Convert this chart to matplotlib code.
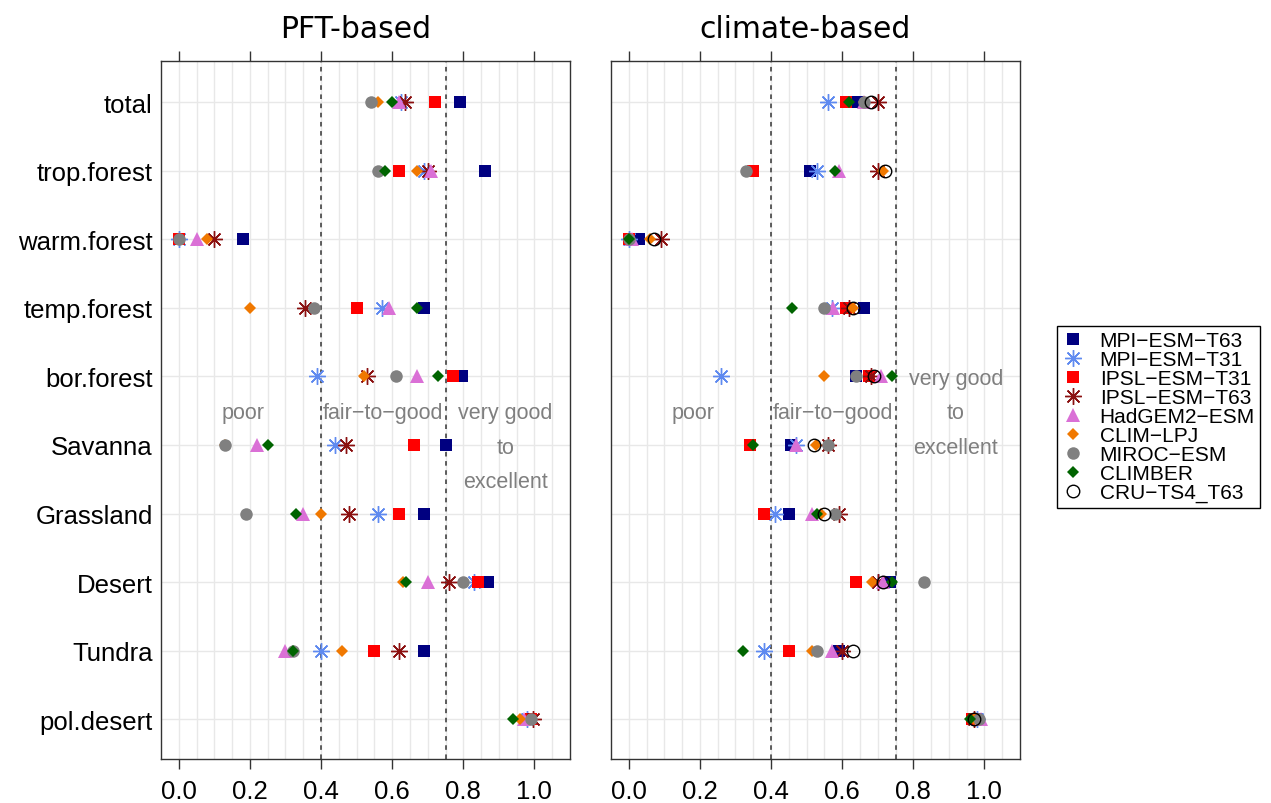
import numpy as np
import matplotlib
matplotlib.use("Agg")
import matplotlib.pyplot as plt
from matplotlib.lines import Line2D

categories = ["total", "trop.forest", "warm.forest", "temp.forest", "bor.forest",
              "Savanna", "Grassland", "Desert", "Tundra", "pol.desert"]
models = ["MPI\u2212ESM\u2212T63", "MPI\u2212ESM\u2212T31", "IPSL\u2212ESM\u2212T31",
          "IPSL\u2212ESM\u2212T63", "HadGEM2\u2212ESM", "CLIM\u2212LPJ", "MIROC\u2212ESM",
          "CLIMBER", "CRU\u2212TS4_T63"]
nan = np.nan

# PFT-based scores
pft_mpi_t63 = [0.79, 0.86, 0.18, 0.69, 0.795, 0.75, 0.69, 0.87, 0.69, 0.99]
pft_mpi_t31 = [0.625, 0.69, 0.0, 0.57, 0.39, 0.44, 0.56, 0.83, 0.40, 0.98]
pft_ipsl_t31 = [0.72, 0.62, 0.0, 0.50, 0.77, 0.66, 0.62, 0.84, 0.55, 0.99]
pft_ipsl_t63 = [0.635, 0.70, 0.10, 0.355, 0.53, 0.47, 0.48, 0.76, 0.62, 0.995]
pft_hadgem = [0.62, 0.71, 0.05, 0.59, 0.67, 0.22, 0.35, 0.70, 0.30, 0.97]
pft_climlpj = [0.56, 0.67, 0.08, 0.20, 0.52, 0.13, 0.40, 0.63, 0.46, 0.96]
pft_miroc = [0.54, 0.56, 0.0, 0.38, 0.61, 0.13, 0.19, 0.80, 0.32, 0.99]
pft_climber = [0.60, 0.58, nan, 0.67, 0.73, 0.25, 0.33, 0.64, 0.32, 0.94]
pft_cru = [nan] * 10

# climate-based scores
cli_mpi_t63 = [0.645, 0.51, 0.03, 0.66, 0.64, 0.455, 0.45, 0.735, 0.59, 0.98]
cli_mpi_t31 = [0.56, 0.53, 0.0, 0.57, 0.26, 0.47, 0.41, 0.70, 0.38, 0.98]
cli_ipsl_t31 = [0.61, 0.35, 0.0, 0.61, 0.675, 0.34, 0.38, 0.64, 0.45, 0.965]
cli_ipsl_t63 = [0.70, 0.70, 0.09, 0.62, 0.68, 0.56, 0.59, 0.70, 0.60, 0.97]
cli_hadgem = [0.66, 0.59, 0.01, 0.575, 0.71, 0.47, 0.515, 0.715, 0.57, 0.99]
cli_climlpj = [0.66, 0.715, 0.06, 0.63, 0.55, 0.525, 0.54, 0.685, 0.515, 0.97]
cli_miroc = [0.66, 0.33, 0.0, 0.55, 0.64, 0.56, 0.58, 0.83, 0.53, 0.985]
cli_climber = [0.62, 0.58, 0.0, 0.46, 0.74, 0.35, 0.53, 0.74, 0.32, 0.96]
cli_cru = [0.68, 0.72, 0.07, 0.63, 0.69, 0.52, 0.55, 0.715, 0.63, 0.97]

pft_data = [pft_mpi_t63, pft_mpi_t31, pft_ipsl_t31, pft_ipsl_t63, pft_hadgem,
            pft_climlpj, pft_miroc, pft_climber, pft_cru]
cli_data = [cli_mpi_t63, cli_mpi_t31, cli_ipsl_t31, cli_ipsl_t63, cli_hadgem,
            cli_climlpj, cli_miroc, cli_climber, cli_cru]

thresholds = [0.4, 0.75]
xticks = [0.0, 0.2, 0.4, 0.6, 0.8, 1.0]

styles = [
    dict(marker="s", color="#000080", ms=9, mfc="#000080", mew=0),
    dict(marker=(8, 2, 0), color="#5F8AF0", ms=12, mew=1.0),
    dict(marker="s", color="#FF0000", ms=9, mfc="#FF0000", mew=0),
    dict(marker=(8, 2, 0), color="#8B1010", ms=12, mew=1.0),
    dict(marker="^", color="#DA70D6", ms=10.5, mfc="#DA70D6", mew=0),
    dict(marker="D", color="#F07800", ms=6.5, mfc="#F07800", mew=0),
    dict(marker="o", color="#808080", ms=9, mfc="#808080", mew=0),
    dict(marker="D", color="#006400", ms=6.5, mfc="#006400", mew=0),
    dict(marker="o", color="black", ms=9, mfc="none", mew=1.0),
]

W, H = 1271, 804
fig = plt.figure(figsize=(W / 100, H / 100), dpi=100)

def px_axes(x0, y0, x1, y1):
    return fig.add_axes([x0 / W, 1 - y1 / H, (x1 - x0) / W, (y1 - y0) / H])

ax1 = px_axes(161, 62, 570, 760)
ax2 = px_axes(611, 62, 1020, 760)

ypos = np.arange(len(categories))[::-1] + 1
grey_txt = "#7F7F7F"
lab_font = "Liberation Sans"

def draw_panel(ax, data, show_ylabels):
    ax.set_xlim(-0.05, 1.1)
    ax.set_ylim(0.42, 10.6)
    for g in np.arange(0, 1.1, 0.05):
        ax.axvline(g, color="#E8E8E8", lw=1.0, zorder=0)
    for y in ypos:
        ax.axhline(y, color="#E8E8E8", lw=1.0, zorder=0)
    for t in thresholds:
        ax.axvline(t, color="#333333", lw=1.1, ls=(0, (3, 3)), zorder=1)
    for vals, st in zip(data, styles):
        ax.plot(vals, ypos, ls="none", zorder=3, **st)
    ax.set_xticks(xticks)
    ax.set_xticklabels(["%.1f" % v for v in xticks], fontfamily=lab_font, fontsize=18.5)
    ax.tick_params(axis="x", top=True, bottom=True, direction="out", length=7.5,
                   width=1.0, color="#333333", pad=7)
    ax.set_yticks(ypos)
    if show_ylabels:
        ax.set_yticklabels(categories, fontfamily=lab_font, fontsize=18.5)
    else:
        ax.set_yticklabels([])
    ax.tick_params(axis="y", length=0, pad=6)
    for s in ax.spines.values():
        s.set_color("#333333")
        s.set_linewidth(1.0)

draw_panel(ax1, pft_data, True)
draw_panel(ax2, cli_data, False)

tk = dict(color=grey_txt, fontsize=15.5, fontfamily=lab_font, ha="center", va="center", zorder=4)
ax1.text(0.18, 5.47, "poor", **tk)
ax1.text(0.575, 5.47, "fair\u2212to\u2212good", **tk)
ax1.text(0.918, 5.47, "very good", **tk)
ax1.text(0.918, 4.97, "to", **tk)
ax1.text(0.918, 4.47, "excellent", **tk)
ax2.text(0.18, 5.47, "poor", **tk)
ax2.text(0.575, 5.47, "fair\u2212to\u2212good", **tk)
ax2.text(0.92, 5.97, "very good", **tk)
ax2.text(0.92, 5.47, "to", **tk)
ax2.text(0.92, 4.97, "excellent", **tk)

fig.text(356 / W, 1 - 38.5 / H, "PFT-based", fontsize=21.5, ha="center", va="baseline",
         fontfamily="DejaVu Sans")
fig.text(805 / W, 1 - 38.5 / H, "climate-based", fontsize=21.5, ha="center", va="baseline",
         fontfamily="DejaVu Sans")

handles = []
for name, st in zip(models, styles):
    s = dict(st)
    handles.append(Line2D([], [], ls="none", label=name, **s))
leg = fig.legend(handles=handles, loc="upper left", bbox_to_anchor=(1057 / W, 1 - 327 / H),
                 prop=dict(family=lab_font, size=15), frameon=True, fancybox=False,
                 edgecolor="black", framealpha=1, borderpad=0.25, labelspacing=0.0,
                 handlelength=1.0, handletextpad=0.8, borderaxespad=0)
leg.get_frame().set_linewidth(1.0)

fig.savefig("out.png", dpi=100)
